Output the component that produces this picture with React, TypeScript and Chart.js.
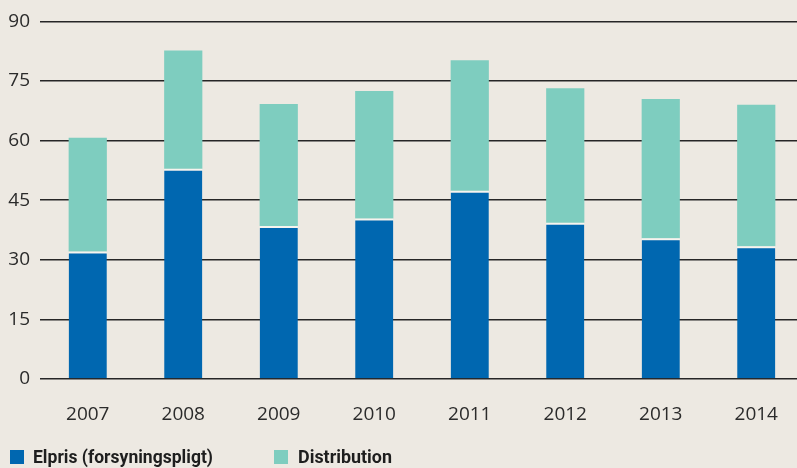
import React, { useEffect, useRef } from "react";
import { Chart, registerables } from "chart.js";

Chart.register(...registerables);

const years = ["2007", "2008", "2009", "2010", "2011", "2012", "2013", "2014"];
const elpris = [32.1, 52.9, 38.5, 40.4, 47.4, 39.3, 35.4, 33.4];
const distribution = [28.6, 29.8, 30.7, 32.1, 32.8, 33.9, 35.1, 35.6];
const yTicks = [0, 15, 30, 45, 60, 75, 90];

const BG = "#ede9e2";
const BLUE = "#0067b0";
const TEAL = "#7ecdbf";
const TEXT = "#2b2b2b";
const FONT = "'Open Sans', 'DejaVu Sans', sans-serif";
const LEGEND_FONT = "Roboto, 'Open Sans', sans-serif";

export default function App() {
  const ref = useRef<HTMLCanvasElement | null>(null);
  const legendRefs = useRef<(HTMLDivElement | null)[]>([]);

  useEffect(() => {
    document.body.style.margin = "0";
    const targets = [180, 94];
    legendRefs.current.forEach((el, i) => {
      if (!el) return;
      const w = el.getBoundingClientRect().width;
      if (w > 0) el.style.transform = `scaleX(${targets[i] / w})`;
    });
    const canvas = ref.current;
    if (!canvas) return;
    const chart = new Chart(canvas, {
      type: "bar",
      data: {
        labels: years,
        datasets: [
          {
            label: "Elpris (forsyningspligt)",
            data: elpris,
            backgroundColor: BLUE,
            borderColor: "#f6f4ef",
            borderWidth: { top: 2, left: 0, right: 0, bottom: 0 },
            borderSkipped: false,
            barPercentage: 0.4,
            categoryPercentage: 1,
          },
          {
            label: "Distribution",
            data: distribution,
            backgroundColor: TEAL,
            borderWidth: 0,
            barPercentage: 0.4,
            categoryPercentage: 1,
          },
        ],
      },
      options: {
        responsive: false,
        animation: false,
        layout: { padding: { top: 20, left: 0, right: 0, bottom: 0 } },
        plugins: {
          legend: { display: false },
          tooltip: { enabled: false },
        },
        scales: {
          x: {
            stacked: true,
            grid: { display: false },
            border: { display: false },
            ticks: {
              color: TEXT,
              font: { family: FONT, size: 19 },
              padding: 16,
            },
            afterFit: (s: any) => {
              s.height = 89;
            },
          },
          y: {
            stacked: true,
            min: 0,
            max: 90,
            afterBuildTicks: (s: any) => {
              s.ticks = yTicks.map((v) => ({ value: v }));
            },
            grid: {
              color: "#262626",
              lineWidth: 1.5,
              drawTicks: false,
            },
            border: { display: false },
            ticks: {
              color: TEXT,
              font: { family: FONT, size: 19 },
              padding: 10,
            },
            afterFit: (s: any) => {
              s.width = 40;
            },
          },
        },
      },
    });
    return () => chart.destroy();
  }, []);

  const legendItem = (
    idx: number,
    color: string,
    label: string,
    boxLeft: number,
    textLeft: number
  ) => (
    <>
      <div
        style={{
          position: "absolute",
          left: boxLeft,
          top: 450,
          width: 14,
          height: 14,
          background: color,
        }}
      />
      <div
        ref={(el) => {
          legendRefs.current[idx] = el;
        }}
        style={{
          position: "absolute",
          left: textLeft,
          top: 446,
          fontFamily: LEGEND_FONT,
          fontWeight: 700,
          fontSize: 19,
          lineHeight: "22px",
          color: "#1e1e1e",
          whiteSpace: "nowrap",
          transformOrigin: "left center",
        }}
      >
        {label}
      </div>
    </>
  );

  return (
    <div
      style={{
        position: "fixed",
        left: 0,
        top: 0,
        width: 797,
        height: 468,
        overflow: "hidden",
        background: BG,
      }}
    >
      <canvas ref={ref} width={804} height={468} style={{ position: "absolute", left: 0, top: 0 }} />
      {legendItem(0, BLUE, "Elpris (forsyningspligt)", 10, 33)}
      {legendItem(1, TEAL, "Distribution", 274, 298)}
    </div>
  );
}
